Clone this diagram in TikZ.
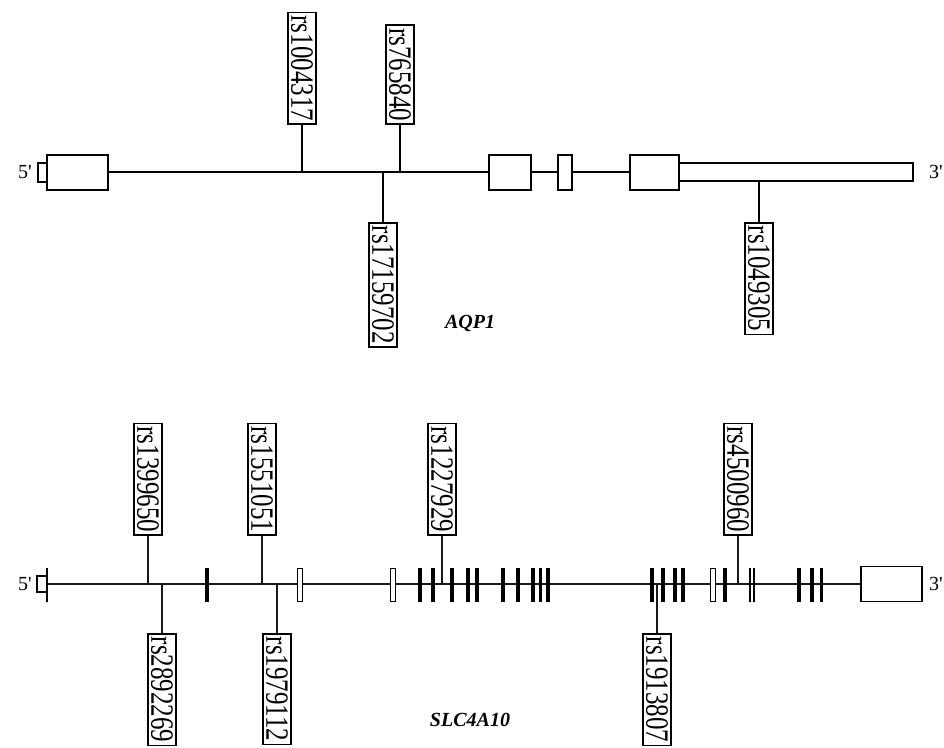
\documentclass[tikz,border=0pt]{standalone}
\usepackage{fontspec}
\usepackage{graphicx}
\setmainfont{Liberation Serif}
\usetikzlibrary{positioning}
\newcommand{\rsid}[1]{\scalebox{1}[1.3]{#1}}

\begin{document}
\begin{tikzpicture}[
  x=1pt,y=-1pt,
  every node/.style={font=\fontsize{20}{20}\selectfont},
  snp/.style={draw,line width=1.6pt,fill=white,rotate=-90,inner xsep=3pt,inner ysep=1pt,minimum height=28,font=\fontsize{25}{25}\selectfont},
  exon/.style={draw,line width=2pt,fill=white,inner sep=0pt},
  cds/.style={fill=black,inner sep=0pt,minimum width=4.5,minimum height=34},
  open/.style={draw,line width=1.4pt,fill=white,inner sep=0pt,minimum width=5,minimum height=33},
  tick/.style={draw,line width=1.4pt,inner sep=0pt,minimum width=0,minimum height=34},
  stalk/.style={line width=2pt},
  thinstalk/.style={line width=1.7pt,black!90},
  prime/.style={inner sep=0pt},
  gene/.style={font=\bfseries\itshape\fontsize{20}{20}\selectfont}
]
\useasboundingbox (0,0) rectangle (944,747);

% AQP1
\node[exon,minimum width=9,minimum height=19] (a0) at (42.5,172) {};
\node[exon,minimum width=61,minimum height=35] (a1) at (77.5,172) {};
\node[exon,minimum width=42,minimum height=35] (a2) at (510,172) {};
\node[exon,minimum width=14,minimum height=35] (a3) at (565,172) {};
\node[exon,minimum width=49,minimum height=35] (a4) at (654.5,172) {};
\node[exon,minimum width=234,minimum height=18] (a5) at (796,172) {};
\draw[stalk] (a1) -- (a2) -- (a3) -- (a4);
\node[prime,anchor=east] (a5p) at (32,172) {5\textquotesingle};
\node[prime,anchor=west] (a3p) at (929,172) {3\textquotesingle};

\node[snp,anchor=east] (r1004317) at (302,125) {\rsid{rs1004317}};
\node[snp,anchor=east] (r765840) at (400,125) {\rsid{rs765840}};
\node[snp,anchor=west] (r17159702) at (383,222) {\rsid{rs17159702}};
\node[snp,anchor=west] (r1049305) at (759,222) {\rsid{rs1049305}};
\coordinate (k1004317) at (302,172);
\coordinate (k765840) at (400,172);
\coordinate (k17159702) at (383,172);
\coordinate (k1049305) at (759,181);
\draw[stalk] (r1004317) -- (k1004317);
\draw[stalk] (r765840) -- (k765840);
\draw[stalk] (r17159702) -- (k17159702);
\draw[stalk] (r1049305) -- (k1049305);
\node[gene] (aqp) at (470,323) {AQP1};

% SLC4A10
\node[exon,line width=1.6pt,minimum width=10,minimum height=16] (b0) at (42,584) {};
\node[exon,line width=1.6pt,minimum width=61,minimum height=35] (b9) at (891.5,584) {};
\draw[thinstalk] (b0) -- (b9);
\node[tick] (t47) at (47,585) {};
\foreach \x in {207,420,433,452,468,477,503,518,533,548,652,663,675,683,725,799,812}
  \node[cds] (c\x) at (\x,585) {};
\node[cds,minimum width=3] (c540) at (540,585) {};
\node[cds,minimum width=3] (c821) at (821,585) {};
\foreach \x in {750,754}
  \node[tick,line width=1.2pt] (t\x) at (\x,585) {};
\foreach \x in {300,393,713}
  \node[open] (o\x) at (\x,585) {};
\node[prime,anchor=east] (b5p) at (32,584) {5\textquotesingle};
\node[prime,anchor=west] (b3p) at (929,584) {3\textquotesingle};

\node[snp,anchor=east] (r1399650) at (148,536) {\rsid{rs1399650}};
\node[snp,anchor=east] (r1551051) at (262,536) {\rsid{rs1551051}};
\node[snp,anchor=east] (r1227929) at (442,536) {\rsid{rs1227929}};
\node[snp,anchor=east] (r4500960) at (738,536) {\rsid{rs4500960}};
\node[snp,anchor=west] (r2892269) at (162,633) {\rsid{rs2892269}};
\node[snp,anchor=west] (r1979112) at (277,633) {\rsid{rs1979112}};
\node[snp,anchor=west] (r1913807) at (657,633) {\rsid{rs1913807}};
\coordinate (k1399650) at (148,584);
\coordinate (k1551051) at (262,584);
\coordinate (k1227929) at (442,584);
\coordinate (k4500960) at (738,584);
\coordinate (k2892269) at (165,584);
\coordinate (k1979112) at (280,584);
\coordinate (k1913807) at (658,584);
\draw[thinstalk] (r1399650) -- (k1399650);
\draw[thinstalk] (r1551051) -- (k1551051);
\draw[thinstalk] (r1227929) -- (k1227929);
\draw[thinstalk] (r4500960) -- (k4500960);
\draw[thinstalk] (r2892269.west) -- (r2892269.west |- k2892269);
\draw[thinstalk] (r1979112.west) -- (r1979112.west |- k1979112);
\draw[thinstalk] (r1913807.west) -- (r1913807.west |- k1913807);
\node[gene] (slc) at (470,720) {SLC4A10};
\end{tikzpicture}
\end{document}
